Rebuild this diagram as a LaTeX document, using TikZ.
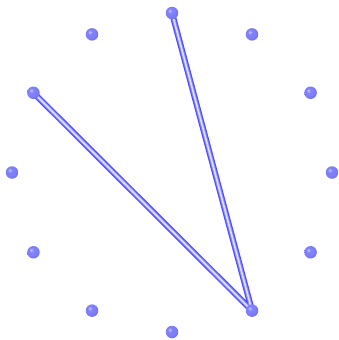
\documentclass[tikz,border=0pt]{standalone}
\definecolor{balledge}{RGB}{95,95,235}
\definecolor{ballmid}{RGB}{130,130,250}
\definecolor{ballhi}{RGB}{200,200,255}
\pgfdeclareradialshading{bluebally}{\pgfpoint{-10bp}{10bp}}{%
  color(0bp)=(ballhi); color(9bp)=(ballmid); color(22bp)=(ballmid!85!balledge);
  color(34bp)=(balledge); color(50bp)=(balledge)}
\begin{document}
\begin{tikzpicture}[x=1pt,y=-1pt,
  ballpt/.style={circle,inner sep=0pt,minimum size=12.5pt,shading=bluebally},
  tubeout/.style={draw=blue!70!white,line width=6pt},
  tubemid/.style={draw=blue!45!white,line width=3.6pt},
  tubein/.style={draw=blue!12!white,line width=1.6pt}]
\useasboundingbox (0,0) rectangle (339,340);
\foreach \i in {0,...,11}{
  \coordinate (p\i) at ({172+160*cos(90-30*\i)},{172.5-159.5*sin(90-30*\i)});
}
\path[tubeout] (p5) -- (p0) (p5) -- (p10);
\path[tubemid] (p5) -- (p0) (p5) -- (p10);
\path[tubein] (p5) -- (p0) (p5) -- (p10);
\foreach \i in {0,...,11}{
  \node[ballpt] (b\i) at (p\i) {};
}
\end{tikzpicture}
\end{document}
